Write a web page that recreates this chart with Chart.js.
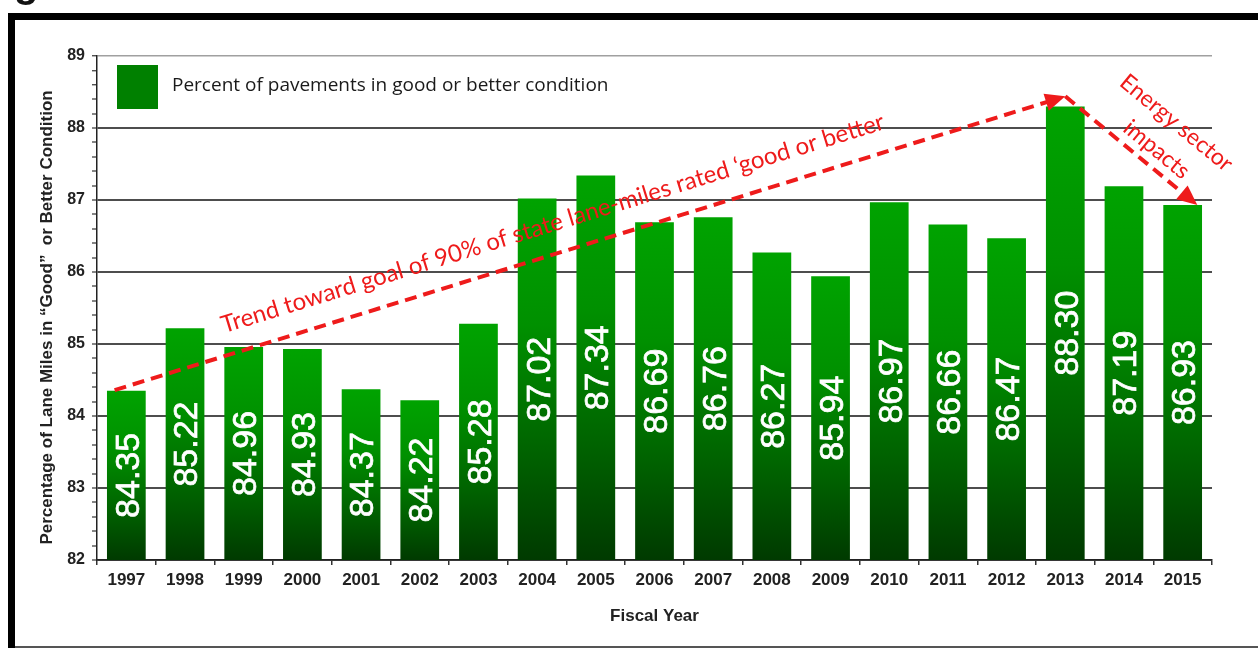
<!DOCTYPE html>
<html>
<head>
<meta charset="utf-8">
<script src="https://cdn.jsdelivr.net/npm/chart.js@4.4.1/dist/chart.umd.min.js"></script>
<style>
  html, body { margin: 0; padding: 0; background: #fff; overflow: hidden; }
  #wrap { position: relative; width: 1258px; height: 648px; background: #fff; }
  canvas { position: absolute; left: 0; top: 0; }
  .frame { position: absolute; background: #000; }
  #cut { position: absolute; left: 14px; top: -37px; font: bold 40px "Liberation Sans", Arial, sans-serif; line-height: 40px; color: #111; }
</style>
</head>
<body>
<div id="wrap">
  <canvas id="c" width="1258" height="648"></canvas>
  <div id="cut">g</div>
  <div class="frame" style="left:8px; top:13px; width:1250px; height:7px;"></div>
  <div class="frame" style="left:8px; top:13px; width:7px; height:635px;"></div>
  <div class="frame" style="left:15px; top:646px; width:1243px; height:2px; background:#555;"></div>
</div>
<script>
// ---- data ----
const years = ['1997','1998','1999','2000','2001','2002','2003','2004','2005','2006','2007','2008','2009','2010','2011','2012','2013','2014','2015'];
const goodPct = [84.35,85.22,84.96,84.93,84.37,84.22,85.28,87.02,87.34,86.69,86.76,86.27,85.94,86.97,86.66,86.47,88.30,87.19,86.93];
const seriesLabel = 'Percent of pavements in good or better condition';
const yTitle = 'Percentage of Lane Miles in \u201cGood\u201d  or Better Condition    ';
const xTitle = 'Fiscal Year';
const yMin = 82, yMax = 89, yMinorStep = 0.2;
// annotation anchors in data units: [category index, value]
const trendStart = [-0.2, 84.36];
const trendApex = [16, 88.44];
const energyEnd = [18.25, 86.93];
const trendText = 'Trend toward goal of 90% of state lane-miles rated \u2018good or better';
const energyText = ['Energy sector', 'impacts'];

const RED = '#ee1b1b';
const isInt = v => Math.abs(v - Math.round(v)) < 1e-6;

const barGradient = (ctx) => {
  const chart = ctx.chart;
  const area = chart.chartArea;
  if (!area || ctx.type !== 'data') return '#009a00';
  const top = chart.scales.y.getPixelForValue(ctx.raw);
  const g = chart.ctx.createLinearGradient(0, top, 0, area.bottom);
  g.addColorStop(0, '#00a300');
  g.addColorStop(0.35, '#009000');
  g.addColorStop(0.7, '#006300');
  g.addColorStop(1, '#003a00');
  return g;
};

const legendPlugin = {
  id: 'insideLegend',
  afterDraw(chart) {
    const {ctx, chartArea} = chart;
    const x = chartArea.left + 20, y = chartArea.top + 9;
    ctx.save();
    ctx.fillStyle = '#008000';
    ctx.fillRect(x, y, 41, 44);
    ctx.fillStyle = '#1a1a1a';
    ctx.font = '19px "Open Sans", "Liberation Sans", sans-serif';
    ctx.textBaseline = 'middle';
    ctx.textAlign = 'left';
    ctx.fillText(chart.data.datasets[0].label, x + 55, y + 21);
    ctx.restore();
  }
};

const valueLabelPlugin = {
  id: 'valueLabels',
  afterDatasetsDraw(chart) {
    const {ctx, scales, chartArea} = chart;
    const data = chart.data.datasets[0].data;
    ctx.save();
    ctx.fillStyle = '#ffffff';
    ctx.strokeStyle = '#ffffff';
    ctx.lineWidth = 0.7;
    ctx.font = '34px "Liberation Sans", Arial, sans-serif';
    ctx.textAlign = 'center';
    ctx.textBaseline = 'middle';
    data.forEach((v, i) => {
      const cx = scales.x.getPixelForValue(i);
      const cy = (scales.y.getPixelForValue(v) + chartArea.bottom) / 2;
      ctx.save();
      ctx.translate(cx + 3, cy);
      ctx.rotate(-Math.PI / 2);
      ctx.fillText(v.toFixed(2), 0, 0);
      ctx.strokeText(v.toFixed(2), 0, 0);
      ctx.restore();
    });
    ctx.restore();
  }
};

function arrowHead(ctx, tip, dir, len, half) {
  const bx = tip[0] - dir[0] * len, by = tip[1] - dir[1] * len;
  ctx.beginPath();
  ctx.moveTo(tip[0], tip[1]);
  ctx.lineTo(bx - dir[1] * half, by + dir[0] * half);
  ctx.lineTo(bx + dir[1] * half, by - dir[0] * half);
  ctx.closePath();
  ctx.fill();
}

function dashedArrow(ctx, a, b) {
  const dx = b[0] - a[0], dy = b[1] - a[1];
  const L = Math.hypot(dx, dy);
  const dir = [dx / L, dy / L];
  const hl = 20;
  ctx.setLineDash([12, 7]);
  ctx.beginPath();
  ctx.moveTo(a[0], a[1]);
  ctx.lineTo(b[0] - dir[0] * hl * 0.8, b[1] - dir[1] * hl * 0.8);
  ctx.stroke();
  ctx.setLineDash([]);
  arrowHead(ctx, b, dir, hl, 9);
  return {dir, L};
}

const annotationPlugin = {
  id: 'arrows',
  afterDatasetsDraw(chart) {
    const {ctx, scales} = chart;
    const px = p => [scales.x.getPixelForValue(p[0]), scales.y.getPixelForValue(p[1])];
    const s = px(trendStart), a = px(trendApex), e = px(energyEnd);
    ctx.save();
    ctx.strokeStyle = RED;
    ctx.fillStyle = RED;
    ctx.lineWidth = 4;
    const t1 = dashedArrow(ctx, s, a);
    const t2 = dashedArrow(ctx, a, e);

    // trend label
    ctx.font = '24px Lato, "Open Sans", sans-serif';
    ctx.textAlign = 'left';
    ctx.textBaseline = 'alphabetic';
    const ang1 = Math.atan2(t1.dir[1], t1.dir[0]);
    const n1 = [t1.dir[1], -t1.dir[0]];
    const f1 = 0.122 * t1.L;
    const p1 = [s[0] + t1.dir[0] * f1 + n1[0] * 22, s[1] + t1.dir[1] * f1 + n1[1] * 22];
    ctx.save();
    ctx.translate(p1[0], p1[1]);
    ctx.rotate(ang1);
    ctx.fillText(trendText, 0, 0);
    ctx.restore();

    // energy label
    ctx.font = '23px Lato, "Open Sans", sans-serif';
    const ang2 = Math.atan2(t2.dir[1], t2.dir[0]);
    const n2 = [t2.dir[1], -t2.dir[0]];
    ctx.textAlign = 'center';
    ctx.textBaseline = 'middle';
    const offs = [[0.6, 50], [0.61, 17]];
    energyText.forEach((line, i) => {
      const f = offs[i][0] * t2.L, o = offs[i][1];
      const p = [a[0] + t2.dir[0] * f + n2[0] * o, a[1] + t2.dir[1] * f + n2[1] * o];
      ctx.save();
      ctx.translate(p[0], p[1]);
      ctx.rotate(ang2);
      ctx.fillText(line, 0, 0);
      ctx.restore();
    });
    ctx.restore();
  }
};

new Chart(document.getElementById('c'), {
  type: 'bar',
  data: {
    labels: years,
    datasets: [{
      label: seriesLabel,
      data: goodPct,
      backgroundColor: barGradient,
      borderWidth: 0,
      barPercentage: 0.66,
      categoryPercentage: 1.0
    }]
  },
  options: {
    responsive: false,
    animation: false,
    devicePixelRatio: 1,
    layout: { padding: { top: 56, right: 46, bottom: 0, left: 0 } },
    plugins: {
      legend: { display: false },
      tooltip: { enabled: false }
    },
    scales: {
      x: {
        afterFit(scale) { scale.height = 88; },
        grid: {
          offset: true,
          color: ctx => (ctx.index === years.length ? '#a0a0a0' : 'rgba(0,0,0,0)'),
          lineWidth: 1.5,
          tickColor: '#333',
          tickLength: 5,
          tickWidth: 1.5
        },
        border: { color: '#222', width: 1.5 },
        ticks: {
          color: '#222',
          font: { family: '"Liberation Sans", Arial, sans-serif', size: 17, weight: 'bold' },
          padding: 5,
          maxRotation: 0,
          autoSkip: false
        },
        title: {
          display: true,
          text: xTitle,
          color: '#222',
          font: { family: '"Liberation Sans", Arial, sans-serif', size: 17, weight: 'bold' },
          padding: { top: 0, bottom: 21 }
        }
      },
      y: {
        min: yMin,
        max: yMax,
        afterFit(scale) { scale.width = 97; },
        grid: {
          color: ctx => {
            const v = ctx.tick ? ctx.tick.value : NaN;
            if (!isInt(v)) return 'rgba(0,0,0,0)';
            return Math.round(v) === yMax ? '#a0a0a0' : '#4d4d4d';
          },
          lineWidth: ctx => (ctx.tick && Math.round(ctx.tick.value) === yMax ? 1.5 : 2),
          tickColor: '#333',
          tickLength: 5,
          tickWidth: 1.2
        },
        border: { color: '#222', width: 1.5 },
        ticks: {
          stepSize: yMinorStep,
          autoSkip: false,
          color: '#222',
          padding: 7,
          font: { family: '"Liberation Sans", Arial, sans-serif', size: 16, weight: 'bold' },
          callback: v => (isInt(v) ? String(Math.round(v)) : '')
        },
        title: {
          display: true,
          text: yTitle,
          color: '#222',
          font: { family: '"Liberation Sans", Arial, sans-serif', size: 17, weight: 'bold' },
          padding: { top: 37, bottom: 0 }
        }
      }
    }
  },
  plugins: [legendPlugin, valueLabelPlugin, annotationPlugin]
});
</script>
</body>
</html>
